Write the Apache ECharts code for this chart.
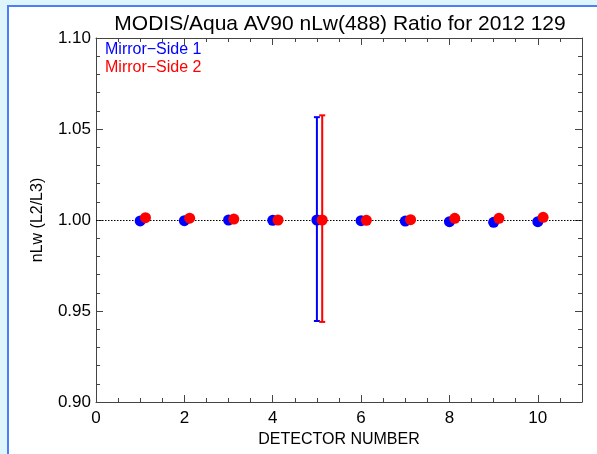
<!DOCTYPE html>
<html>
<head>
<meta charset="utf-8">
<script src="https://cdn.jsdelivr.net/npm/echarts@6/dist/echarts.min.js"></script>
<style>
html,body{margin:0;padding:0;width:597px;height:454px;overflow:hidden;background:#def6fb;}
#frame{position:absolute;left:7px;top:5px;right:0;bottom:0;background:#fff;border-left:2px solid #4d7cff;border-top:2px solid #4d7cff;}
#chart{position:absolute;left:0;top:0;width:597px;height:454px;}
</style>
</head>
<body>
<div id="frame"></div>
<div id="chart"></div>
<script>
const titleText = 'MODIS/Aqua AV90 nLw(488) Ratio for 2012 129';
const detectors = [1, 2, 3, 4, 5, 6, 7, 8, 9, 10];
const ms1 = [0.9995, 0.9996, 1.0000, 0.9998, 1.0000, 0.9996, 0.9994, 0.9991, 0.9987, 0.9991];
const ms2 = [1.0013, 1.0010, 1.0005, 1.0000, 1.0000, 0.9998, 1.0002, 1.0009, 1.0009, 1.0015];
// error bars: [detector, low, high]
const ms1Err = [[5, 0.9445, 1.0565]];
const ms2Err = [[5, 0.9440, 1.0575]];
const seriesNames = ['Mirror\u2212Side 1', 'Mirror\u2212Side 2'];
const ms2Offset = 0.12;

const font = "'Liberation Sans', Arial, Helvetica, sans-serif";
const axisColor = '#444';

function errItem(color) {
  return function (params, api) {
    const x = api.coord([api.value(0), api.value(1)]);
    const top = api.coord([api.value(0), api.value(2)]);
    const w = 3;
    const st = { stroke: color, lineWidth: 2 };
    return {
      type: 'group',
      children: [
        { type: 'line', shape: { x1: x[0], y1: x[1], x2: top[0], y2: top[1] }, style: st },
        { type: 'line', shape: { x1: x[0] - w, y1: x[1], x2: x[0] + w, y2: x[1] }, style: st },
        { type: 'line', shape: { x1: top[0] - w, y1: top[1], x2: top[0] + w, y2: top[1] }, style: st }
      ]
    };
  };
}

const chart = echarts.init(document.getElementById('chart'), null, { renderer: 'canvas' });
const tickCommon = (len) => ({ show: true, inside: true, length: len, lineStyle: { color: axisColor, width: 1 } });

chart.setOption({
  backgroundColor: 'transparent',
  animation: false,
  title: {
    text: titleText, left: 335, textAlign: 'center', top: 9,
    textStyle: { fontFamily: font, fontSize: 21, fontWeight: 'normal', color: '#000' }
  },
  legend: {
    orient: 'vertical', left: 100, top: 37, itemGap: 2, itemWidth: 0, itemHeight: 0,
    selectedMode: false,
    textStyle: { fontFamily: font, fontSize: 16, padding: [0, 0, 0, -5] },
    data: [
      { name: seriesNames[0], icon: 'none', textStyle: { color: '#0000ff' } },
      { name: seriesNames[1], icon: 'none', textStyle: { color: '#ff0000' } }
    ]
  },
  grid: { left: 96, top: 38, width: 486, height: 364, containLabel: false },
  xAxis: [
    {
      type: 'value', min: 0, max: 11, interval: 2, position: 'bottom',
      name: 'DETECTOR NUMBER', nameLocation: 'middle', nameGap: 26,
      nameTextStyle: { fontFamily: font, fontSize: 16, color: '#000' },
      axisLine: { show: true, onZero: false, lineStyle: { color: axisColor, width: 1 } },
      axisTick: tickCommon(7),
      minorTick: { show: true, splitNumber: 4, length: 4, lineStyle: { color: axisColor } },
      axisLabel: { fontFamily: font, fontSize: 17, color: '#000', margin: 8, showMaxLabel: false },
      splitLine: { show: false }
    },
    {
      type: 'value', min: 0, max: 11, interval: 2, position: 'top',
      axisLine: { show: true, onZero: false, lineStyle: { color: axisColor, width: 1 } },
      axisTick: tickCommon(7),
      minorTick: { show: true, splitNumber: 4, length: 4, lineStyle: { color: axisColor } },
      axisLabel: { show: false }, splitLine: { show: false }
    }
  ],
  yAxis: [
    {
      type: 'value', min: 0.9, max: 1.1, interval: 0.05, position: 'left',
      name: 'nLw (L2/L3)', nameLocation: 'middle', nameGap: 50, nameRotate: 90,
      nameTextStyle: { fontFamily: font, fontSize: 16, color: '#000' },
      axisLine: { show: true, onZero: false, lineStyle: { color: axisColor, width: 1 } },
      axisTick: tickCommon(7),
      minorTick: { show: true, splitNumber: 5, length: 4, lineStyle: { color: axisColor } },
      axisLabel: { fontFamily: font, fontSize: 17, color: '#000', margin: 5, formatter: v => v.toFixed(2) },
      splitLine: { show: false }
    },
    {
      type: 'value', min: 0.9, max: 1.1, interval: 0.05, position: 'right',
      axisLine: { show: true, onZero: false, lineStyle: { color: axisColor, width: 1 } },
      axisTick: tickCommon(7),
      minorTick: { show: true, splitNumber: 5, length: 4, lineStyle: { color: axisColor } },
      axisLabel: { show: false }, splitLine: { show: false }
    }
  ],
  series: [
    {
      name: 'ref', type: 'line', data: [], silent: true,
      markLine: {
        silent: true, symbol: 'none', label: { show: false },
        lineStyle: { color: '#000', type: [1.5, 1.5], width: 1 },
        data: [{ yAxis: 1.0 }]
      }
    },
    {
      name: seriesNames[0] + ' err', type: 'custom', renderItem: errItem('#0000ff'),
      data: ms1Err, z: 3
    },
    {
      name: seriesNames[1] + ' err', type: 'custom', renderItem: errItem('#ff0000'),
      data: ms2Err.map(d => [d[0] + ms2Offset, d[1], d[2]]), z: 4
    },
    {
      name: seriesNames[0], type: 'scatter', symbol: 'circle', symbolSize: 11,
      itemStyle: { color: '#0000ff', opacity: 1 },
      data: detectors.map((d, i) => [d, ms1[i]]), z: 5
    },
    {
      name: seriesNames[1], type: 'scatter', symbol: 'circle', symbolSize: 11,
      itemStyle: { color: '#ff0000', opacity: 1 },
      data: detectors.map((d, i) => [d + ms2Offset, ms2[i]]), z: 6
    }
  ]
});
</script>
</body>
</html>
